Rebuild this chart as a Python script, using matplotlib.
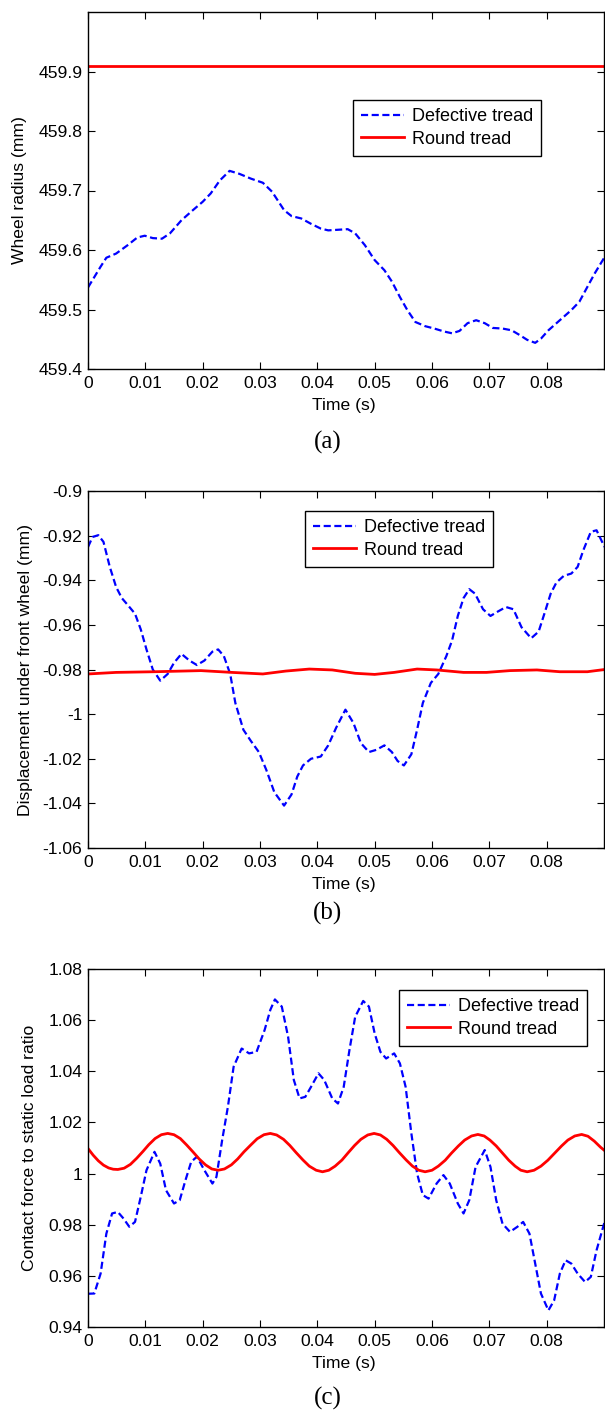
import matplotlib
matplotlib.use("Agg")
import matplotlib.pyplot as plt
import matplotlib.ticker as ticker

plt.rcParams['font.family'] = ['Liberation Sans', 'DejaVu Sans']
plt.rcParams['axes.unicode_minus'] = False

# ---- panel (a): wheel radius ----
tA = [0, 0.0022, 0.0032, 0.0049, 0.0069, 0.0086, 0.0099, 0.0113, 0.0129, 0.0143,
      0.0163, 0.0183, 0.0200, 0.0214, 0.0230, 0.0247, 0.0264, 0.0284, 0.0305, 0.0321,
      0.0342, 0.0355, 0.0372, 0.0389, 0.0406, 0.0419, 0.0436, 0.0453, 0.0466, 0.0483,
      0.0500, 0.0517, 0.0530, 0.0544, 0.0557, 0.0571, 0.0588, 0.0604, 0.0621, 0.0635,
      0.0648, 0.0662, 0.0677, 0.0692, 0.0706, 0.0723, 0.0739, 0.0753, 0.0766, 0.0780,
      0.0790, 0.0803, 0.0823, 0.0843, 0.0857, 0.0871, 0.0884, 0.0901]
defA = [459.537, 459.572, 459.587, 459.594, 459.608, 459.621, 459.624, 459.620, 459.619, 459.628,
        459.650, 459.667, 459.681, 459.695, 459.717, 459.733, 459.728, 459.720, 459.713, 459.698,
        459.667, 459.657, 459.653, 459.644, 459.636, 459.633, 459.634, 459.635, 459.628, 459.608,
        459.583, 459.566, 459.547, 459.521, 459.499, 459.479, 459.472, 459.468, 459.463, 459.460,
        459.464, 459.477, 459.482, 459.477, 459.469, 459.468, 459.465, 459.457, 459.449, 459.444,
        459.451, 459.465, 459.482, 459.499, 459.513, 459.538, 459.561, 459.588]
tRoundA = [0, 0.0901]
roundA = [459.909, 459.909]

# ---- panel (b): displacement under front wheel ----
tB = [0, 0.0008, 0.0018, 0.0027, 0.0038, 0.0049, 0.0059, 0.0069, 0.0082, 0.0092,
      0.0102, 0.0113, 0.0126, 0.0139, 0.0150, 0.0163, 0.0177, 0.0190, 0.0203, 0.0217,
      0.0227, 0.0237, 0.0248, 0.0257, 0.0271, 0.0284, 0.0298, 0.0311, 0.0325, 0.0342,
      0.0355, 0.0365, 0.0375, 0.0389, 0.0406, 0.0419, 0.0433, 0.0449, 0.0463, 0.0476,
      0.0490, 0.0503, 0.0517, 0.0530, 0.0540, 0.0551, 0.0564, 0.0574, 0.0584, 0.0598,
      0.0611, 0.0625, 0.0635, 0.0645, 0.0655, 0.0665, 0.0675, 0.0689, 0.0702, 0.0715,
      0.0729, 0.0742, 0.0756, 0.0773, 0.0786, 0.0796, 0.0807, 0.0817, 0.0830, 0.0843,
      0.0854, 0.0864, 0.0877, 0.0887, 0.0901]
defB = [-0.9251, -0.9206, -0.9198, -0.9228, -0.934, -0.943, -0.948, -0.951, -0.955, -0.962,
        -0.971, -0.980, -0.985, -0.982, -0.977, -0.973, -0.976, -0.978, -0.976, -0.972,
        -0.971, -0.974, -0.982, -0.995, -1.007, -1.012, -1.017, -1.025, -1.035, -1.041,
        -1.036, -1.028, -1.023, -1.020, -1.019, -1.014, -1.006, -0.998, -1.004, -1.013,
        -1.017, -1.016, -1.014, -1.017, -1.021, -1.023, -1.018, -1.007, -0.995, -0.986,
        -0.982, -0.974, -0.967, -0.956, -0.948, -0.944, -0.946, -0.953, -0.956, -0.954,
        -0.952, -0.953, -0.961, -0.966, -0.963, -0.955, -0.946, -0.941, -0.938, -0.937,
        -0.934, -0.9265, -0.9183, -0.9176, -0.9251]
tRoundB = [0, 0.0049, 0.0116, 0.0197, 0.0251, 0.0305, 0.0345, 0.0386, 0.0426, 0.0466,
           0.0500, 0.0534, 0.0574, 0.0608, 0.0655, 0.0695, 0.0736, 0.0783, 0.0823, 0.0871, 0.0901]
roundB = [-0.982, -0.9813, -0.981, -0.9805, -0.9813, -0.982, -0.9807, -0.9798, -0.9802, -0.9817,
          -0.9822, -0.9813, -0.9798, -0.9802, -0.9813, -0.9813, -0.9805, -0.9802, -0.981, -0.981, -0.980]

# ---- panel (c): contact force ratio ----
tC = [0, 0.0011, 0.0022, 0.0032, 0.0042, 0.0052, 0.0062, 0.0072, 0.0082, 0.0092,
      0.0102, 0.0116, 0.0126, 0.0136, 0.0150, 0.0160, 0.0170, 0.0180, 0.0190, 0.0203,
      0.0217, 0.0224, 0.0234, 0.0244, 0.0254, 0.0268, 0.0281, 0.0294, 0.0308, 0.0318,
      0.0326, 0.0338, 0.0349, 0.0359, 0.0369, 0.0379, 0.0389, 0.0402, 0.0412, 0.0426,
      0.0436, 0.0446, 0.0456, 0.0466, 0.0480, 0.0490, 0.0500, 0.0510, 0.0520, 0.0534,
      0.0544, 0.0554, 0.0564, 0.0574, 0.0584, 0.0594, 0.0608, 0.0620, 0.0631, 0.0645,
      0.0655, 0.0665, 0.0676, 0.0692, 0.0702, 0.0712, 0.0723, 0.0736, 0.0749, 0.0759,
      0.0770, 0.0780, 0.0790, 0.0803, 0.0813, 0.0823, 0.0833, 0.0843, 0.0854, 0.0867,
      0.0877, 0.0887, 0.0901]
defC = [0.953, 0.9531, 0.9609, 0.9765, 0.9844, 0.985, 0.9824, 0.9792, 0.9811, 0.9909,
        1.0013, 1.0085, 1.0039, 0.9935, 0.9883, 0.9896, 0.9974, 1.0046, 1.0066, 1.0013,
        0.9961, 0.9987, 1.0131, 1.0261, 1.0418, 1.0489, 1.0470, 1.0476, 1.0561, 1.0640,
        1.0681, 1.0653, 1.0535, 1.0366, 1.0294, 1.0300, 1.0339, 1.0392, 1.0366, 1.0294,
        1.0274, 1.0339, 1.0483, 1.0613, 1.0675, 1.0653, 1.0548, 1.0476, 1.0450, 1.0470,
        1.0431, 1.0339, 1.0157, 1.0000, 0.9916, 0.9902, 0.9961, 0.9994, 0.9961, 0.9883,
        0.9844, 0.9896, 1.0026, 1.0092, 1.0026, 0.9896, 0.9804, 0.9772, 0.9792, 0.9811,
        0.9765, 0.9648, 0.9531, 0.9465, 0.9504, 0.9609, 0.9661, 0.9648, 0.9609, 0.9576,
        0.9596, 0.9700, 0.9811]
tRoundC = [0, 0.0009, 0.0018, 0.0027, 0.0036, 0.0044,
           0.0052, 0.0063, 0.0074, 0.0085, 0.0096, 0.0106, 0.0117, 0.0128, 0.0139,
           0.0150, 0.0161, 0.0172, 0.0183, 0.0194, 0.0205, 0.0216, 0.0227,
           0.0238, 0.0250, 0.0261, 0.0272, 0.0284, 0.0295, 0.0307, 0.0318,
           0.0329, 0.0341, 0.0352, 0.0363, 0.0375, 0.0386, 0.0398, 0.0409,
           0.0420, 0.0431, 0.0443, 0.0454, 0.0465, 0.0476, 0.0488, 0.0499,
           0.0510, 0.0521, 0.0532, 0.0543, 0.0555, 0.0566, 0.0577, 0.0588,
           0.0600, 0.0611, 0.0623, 0.0634, 0.0646, 0.0657, 0.0669, 0.0680,
           0.0691, 0.0701, 0.0712, 0.0723, 0.0734, 0.0745, 0.0755, 0.0766,
           0.0778, 0.0790, 0.0802, 0.0814, 0.0826, 0.0837, 0.0849, 0.0861,
           0.0872, 0.0883, 0.0894, 0.0901]
roundC = [1.0098, 1.0072, 1.0050, 1.0033, 1.0022, 1.0017,
          1.0016, 1.0021, 1.0036, 1.0060, 1.0087, 1.0113, 1.0137, 1.0152, 1.0157,
          1.0152, 1.0137, 1.0112, 1.0085, 1.0057, 1.0034, 1.0018, 1.0013,
          1.0018, 1.0034, 1.0057, 1.0085, 1.0112, 1.0136, 1.0152, 1.0157,
          1.0151, 1.0134, 1.0110, 1.0082, 1.0053, 1.0029, 1.0013, 1.0007,
          1.0013, 1.0029, 1.0053, 1.0082, 1.0110, 1.0134, 1.0151, 1.0157,
          1.0151, 1.0134, 1.0110, 1.0082, 1.0053, 1.0029, 1.0013, 1.0007,
          1.0013, 1.0029, 1.0052, 1.0080, 1.0108, 1.0131, 1.0147, 1.0153,
          1.0147, 1.0131, 1.0108, 1.0080, 1.0052, 1.0029, 1.0013, 1.0007,
          1.0013, 1.0029, 1.0052, 1.0080, 1.0108, 1.0131, 1.0147, 1.0153,
          1.0146, 1.0127, 1.0103, 1.0090]

xticks = [0, 0.01, 0.02, 0.03, 0.04, 0.05, 0.06, 0.07, 0.08]
yticksA = [459.4, 459.5, 459.6, 459.7, 459.8, 459.9]
yticksB = [-1.06, -1.04, -1.02, -1.0, -0.98, -0.96, -0.94, -0.92, -0.9]
yticksC = [0.94, 0.96, 0.98, 1.0, 1.02, 1.04, 1.06, 1.08]

ylabels = ["Wheel radius (mm)", "Displacement under front wheel (mm)",
           "Contact force to static load ratio"]
captions = ["(a)", "(b)", "(c)"]

FS = 12.6
W, H = 605, 1413
fig = plt.figure(figsize=(W / 100, H / 100), dpi=100)

# axes boxes in pixels: (top, bottom)
boxes = [(12, 369), (491, 848), (969, 1327)]
left, right = 88, 604

panels = [
    (tA, defA, tRoundA, roundA, yticksA, (459.4, 460.0), (353, 100), -0.118, 442),
    (tB, defB, tRoundB, roundB, yticksB, (-1.06, -0.9), (305, 511), -0.107, 913),
    (tC, defC, tRoundC, roundC, yticksC, (0.94, 1.08), (399, 990), -0.099, 1398),
]

for i, (t1, d1, t2, d2, yt, ylim, leg, ylx, capy) in enumerate(panels):
    top, bot = boxes[i]
    ax = fig.add_axes([left / W, 1 - bot / H, (right - left) / W, (bot - top) / H])
    ax.plot(t1, d1, color='#0000ff', linestyle='--', dashes=(3.2, 1.6), linewidth=1.6,
            label="Defective tread")
    ax.plot(t2, d2, color='#ff0000', linewidth=2.0, label="Round tread")
    ax.set_xlim(0, 0.09)
    ax.set_ylim(*ylim)
    ax.set_xticks(xticks)
    ax.set_yticks(yt)
    ax.xaxis.set_major_formatter(ticker.FormatStrFormatter('%g'))
    ax.yaxis.set_major_formatter(ticker.FormatStrFormatter('%g'))
    ax.tick_params(direction='in', top=True, right=True, length=5, width=0.8,
                   labelsize=FS, colors='black')
    ax.tick_params(axis='x', pad=5)
    ax.tick_params(axis='y', pad=4)
    for s in ax.spines.values():
        s.set_linewidth(1.0)
    ax.set_xlabel("Time (s)", fontsize=FS)
    ax.xaxis.set_label_coords(0.495, -0.08)
    ax.set_ylabel(ylabels[i], fontsize=FS)
    ax.yaxis.set_label_coords(ylx, 0.5)

    lx0, ly0 = leg
    lg = ax.legend(loc='upper left',
                   bbox_to_anchor=((lx0 - left) / (right - left), (bot - ly0) / (bot - top)),
                   fontsize=13, frameon=True, fancybox=False, framealpha=1,
                   edgecolor='black', handlelength=2.4, handletextpad=0.4,
                   labelspacing=0.3, borderpad=0.45, borderaxespad=0)
    lg.get_frame().set_linewidth(1.0)

    fig.text(328 / W, 1 - capy / H, captions[i], fontsize=18, family='Liberation Serif',
             ha='center', va='center')

fig.savefig("out.png", dpi=100)
